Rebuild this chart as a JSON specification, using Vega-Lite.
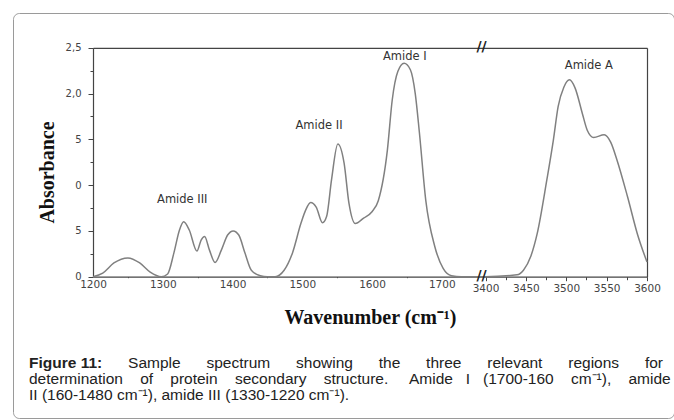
{
  "$schema": "https://vega.github.io/schema/vega-lite/v6.json",
  "autosize": {"type": "none"},
  "padding": {"left": 13, "top": 13, "right": 0, "bottom": 2},
  "width": 661,
  "height": 405,
  "background": "white",
  "config": {"view": {"stroke": "#9a9a9a", "strokeWidth": 1, "cornerRadius": 6}},
  "datasets": {
    "spectrum": [
      {"wn": 1200, "abs": 0}, {"wn": 1214, "abs": 0.04}, {"wn": 1230, "abs": 0.15}, {"wn": 1250, "abs": 0.205},
      {"wn": 1267, "abs": 0.15}, {"wn": 1282, "abs": 0.05}, {"wn": 1298, "abs": 0.0}, {"wn": 1307, "abs": 0.03},
      {"wn": 1316, "abs": 0.26}, {"wn": 1324, "abs": 0.51}, {"wn": 1330, "abs": 0.6}, {"wn": 1338, "abs": 0.51},
      {"wn": 1349, "abs": 0.28}, {"wn": 1355, "abs": 0.4}, {"wn": 1360, "abs": 0.44}, {"wn": 1367, "abs": 0.29},
      {"wn": 1375, "abs": 0.155}, {"wn": 1384, "abs": 0.29}, {"wn": 1393, "abs": 0.455}, {"wn": 1401, "abs": 0.5},
      {"wn": 1409, "abs": 0.455}, {"wn": 1418, "abs": 0.255}, {"wn": 1427, "abs": 0.07}, {"wn": 1440, "abs": 0.01},
      {"wn": 1450, "abs": 0}, {"wn": 1461, "abs": 0}, {"wn": 1474, "abs": 0.07}, {"wn": 1486, "abs": 0.26},
      {"wn": 1498, "abs": 0.58}, {"wn": 1505, "abs": 0.73}, {"wn": 1512, "abs": 0.81}, {"wn": 1520, "abs": 0.76},
      {"wn": 1529, "abs": 0.59}, {"wn": 1535, "abs": 0.66}, {"wn": 1542, "abs": 1.06}, {"wn": 1551, "abs": 1.45},
      {"wn": 1560, "abs": 1.24}, {"wn": 1567, "abs": 0.8}, {"wn": 1576, "abs": 0.58}, {"wn": 1588, "abs": 0.64},
      {"wn": 1600, "abs": 0.71}, {"wn": 1609, "abs": 0.83}, {"wn": 1622, "abs": 1.38}, {"wn": 1629, "abs": 1.93},
      {"wn": 1637, "abs": 2.24}, {"wn": 1646, "abs": 2.33}, {"wn": 1655, "abs": 2.26}, {"wn": 1662, "abs": 2.0},
      {"wn": 1668, "abs": 1.57}, {"wn": 1677, "abs": 0.84}, {"wn": 1690, "abs": 0.33}, {"wn": 1702, "abs": 0.09},
      {"wn": 1714, "abs": 0.01}, {"wn": 1728, "abs": 0}, {"wn": 1762, "abs": 0}, {"wn": 3400, "abs": 0},
      {"wn": 3439, "abs": 0.02}, {"wn": 3447, "abs": 0.07}, {"wn": 3456, "abs": 0.22}, {"wn": 3464, "abs": 0.47},
      {"wn": 3476, "abs": 1.06}, {"wn": 3484, "abs": 1.49}, {"wn": 3490, "abs": 1.86}, {"wn": 3497, "abs": 2.07},
      {"wn": 3504, "abs": 2.15}, {"wn": 3511, "abs": 2.06}, {"wn": 3520, "abs": 1.78}, {"wn": 3526, "abs": 1.6},
      {"wn": 3534, "abs": 1.52}, {"wn": 3547, "abs": 1.55}, {"wn": 3555, "abs": 1.47}, {"wn": 3563, "abs": 1.27},
      {"wn": 3576, "abs": 0.87}, {"wn": 3588, "abs": 0.47}, {"wn": 3600, "abs": 0.16}
    ],
    "labels": [
      {"wn": 1328, "abs": 0.837, "label": "Amide III"},
      {"wn": 1524, "abs": 1.645, "label": "Amide II"},
      {"wn": 1647, "abs": 2.4, "label": "Amide I"},
      {"wn": 3528, "abs": 2.3, "label": "Amide A"}
    ],
    "breaks": [
      {"wn": 3400, "abs": 2.5},
      {"wn": 3400, "abs": 0}
    ]
  },
  "title": {
    "text": "Figure 11:",
    "subtitle": [
      "\u200b\u00a0\u00a0\u00a0\u00a0\u00a0\u00a0\u00a0\u00a0\u00a0\u00a0\u00a0\u00a0\u00a0\u00a0\u00a0\u00a0\u00a0\u00a0\u00a0\u00a0\u00a0\u00a0\u00a0Sample\u00a0\u00a0\u00a0\u00a0\u00a0\u00a0spectrum\u00a0\u00a0\u00a0\u00a0\u00a0\u00a0showing\u00a0\u00a0\u00a0\u00a0\u00a0\u00a0the\u00a0\u00a0\u00a0\u00a0\u00a0\u00a0three\u00a0\u00a0\u00a0\u00a0\u00a0\u00a0relevant\u00a0\u00a0\u00a0\u00a0\u00a0\u00a0regions\u00a0\u00a0\u00a0\u00a0\u00a0\u00a0for",
      "determination \u00a0\u00a0\u00a0of \u00a0\u00a0\u00a0protein \u00a0\u00a0\u00a0secondary \u00a0\u00a0\u00a0structure.\u00a0\u00a0\u00a0\u00a0 Amide \u00a0\u00a0I \u00a0\u00a0(1700-160 \u00a0\u00a0\u00a0cm\u207b\u00b9), \u00a0\u00a0\u00a0amide",
      "II (160-1480 cm\u207b\u00b9), amide III (1330-1220 cm\u207b\u00b9)."
    ],
    "orient": "bottom",
    "anchor": "start",
    "frame": "group",
    "offset": -62,
    "dx": 16,
    "baseline": "top",
    "font": "Liberation Sans",
    "fontSize": 15.5,
    "fontWeight": "bold",
    "color": "#222222",
    "lineHeight": 16,
    "subtitleFont": "Liberation Sans",
    "subtitleFontSize": 15.5,
    "subtitleFontWeight": "normal",
    "subtitleColor": "#222222",
    "subtitleLineHeight": 16,
    "subtitlePadding": -16
  },
  "resolve": {"axis": {"x": "independent", "y": "independent"}},
  "layer": [
    {
      "data": {"name": "spectrum"},
      "mark": {"type": "line", "color": "#808080", "strokeWidth": 1.5, "interpolate": "monotone"},
      "encoding": {
        "x": {
          "field": "wn", "type": "quantitative",
          "scale": {"domain": [1200, 1762, 3400, 3600], "range": [80, 472, 472.5, 634], "nice": false, "zero": false},
          "axis": {
            "orient": "bottom", "offset": -141.3, "grid": false,
            "values": [1200, 1250, 1300, 1350, 1400, 1450, 1500, 1550, 1600, 1650, 1700, 3400, 3425, 3450, 3475, 3500, 3525, 3550, 3575, 3600],
            "labelExpr": "(datum.value < 3400 ? datum.value % 100 == 0 : datum.value % 50 == 0) ? '' + datum.value : ''",
            "tickSize": {"condition": {"test": "datum.value < 3400 ? datum.value % 100 != 0 : datum.value % 50 != 0", "value": 3}, "value": 4},
            "labelOverlap": false, "labelFlush": false,
            "labelFont": "DejaVu Sans", "labelFontSize": 10.5, "labelColor": "#444444", "labelPadding": 3,
            "domainColor": "#444444", "tickColor": "#444444", "domainWidth": 1.2,
            "title": "Wavenumber (cm\u207b\u00b9)", "titleFont": "Liberation Serif", "titleFontSize": 20,
            "titleFontWeight": "bold", "titleColor": "#111111",
            "titleX": 357, "titleY": 41, "titleAlign": "center", "titleBaseline": "middle"
          }
        },
        "y": {
          "field": "abs", "type": "quantitative",
          "scale": {"domain": [0, 2.5], "range": [263.7, 34.8], "nice": false, "zero": false},
          "axis": {
            "orient": "left", "offset": -80, "grid": false,
            "values": [0, 0.25, 0.5, 0.75, 1, 1.25, 1.5, 1.75, 2, 2.25, 2.5],
            "labelExpr": "datum.value == 2.5 ? '2,5' : datum.value == 2 ? '2,0' : (datum.value == 0.5 || datum.value == 1.5) ? '5' : (datum.value == 0 || datum.value == 1) ? '0' : ''",
            "tickSize": {"condition": {"test": "round(datum.value * 4) % 2 == 1", "value": 3}, "value": 5},
            "labelOverlap": false, "labelFlush": false,
            "labelFont": "DejaVu Sans", "labelFontSize": 10, "labelColor": "#444444", "labelPadding": 7,
            "domainColor": "#444444", "tickColor": "#444444", "domainWidth": 1.2,
            "title": "Absorbance", "titleFont": "Liberation Serif", "titleFontSize": 20,
            "titleFontWeight": "bold", "titleColor": "#111111",
            "titleX": -46, "titleY": 159, "titleAngle": 270, "titleAlign": "center", "titleBaseline": "middle"
          }
        }
      }
    },
    {
      "data": {"name": "labels"},
      "mark": {"type": "text", "font": "DejaVu Sans", "fontSize": 11.5, "color": "#333333", "align": "center", "baseline": "middle"},
      "encoding": {
        "x": {
          "field": "wn", "type": "quantitative",
          "scale": {"domain": [1200, 1762, 3400, 3600], "range": [80, 472, 472.5, 634], "nice": false, "zero": false},
          "axis": {"orient": "top", "offset": -34.8, "labels": false, "ticks": false, "grid": false, "title": null, "domainColor": "#444444", "domainWidth": 1.2}
        },
        "y": {
          "field": "abs", "type": "quantitative",
          "scale": {"domain": [0, 2.5], "range": [263.7, 34.8], "nice": false, "zero": false},
          "axis": {"orient": "right", "offset": -27, "labels": false, "ticks": false, "grid": false, "title": null, "domainColor": "#444444", "domainWidth": 1.2}
        },
        "text": {"field": "label"}
      }
    },
    {
      "data": {"name": "breaks"},
      "mark": {"type": "text", "font": "DejaVu Sans", "fontSize": 14, "fontWeight": "bold", "color": "#222222", "align": "center", "baseline": "middle", "dx": -4, "dy": -1},
      "encoding": {
        "x": {"field": "wn", "type": "quantitative", "axis": null},
        "y": {"field": "abs", "type": "quantitative", "axis": null},
        "text": {"value": "//"}
      }
    }
  ]
}
